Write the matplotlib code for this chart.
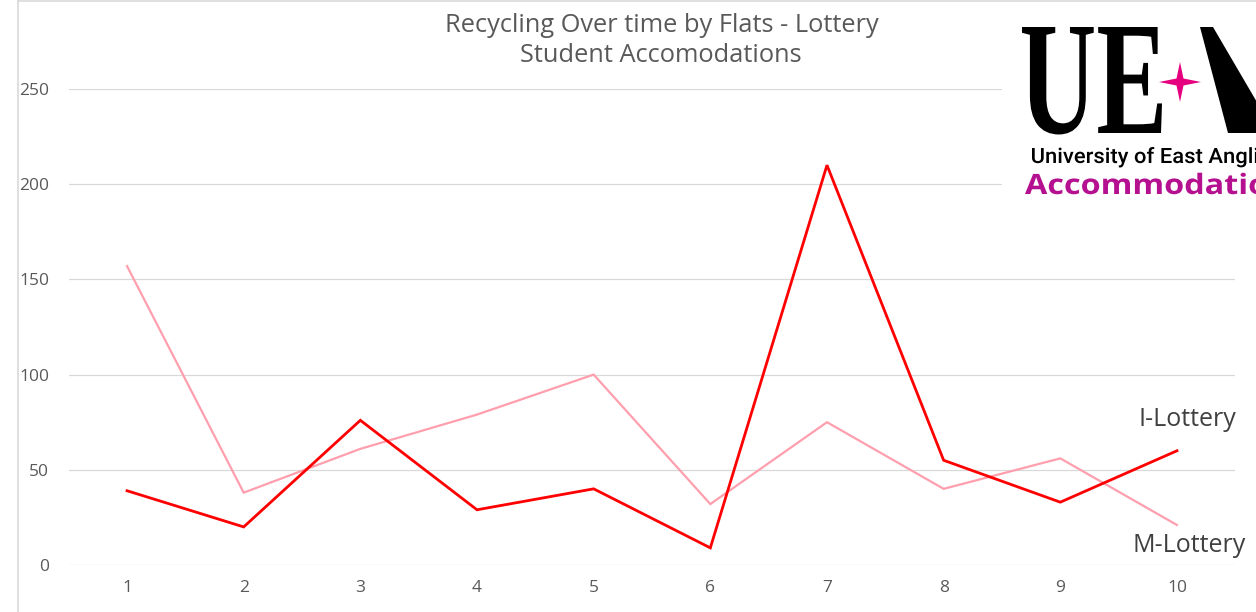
import matplotlib
matplotlib.use("Agg")
import matplotlib.pyplot as plt
from matplotlib.textpath import TextPath
from matplotlib.patches import PathPatch, Polygon, Rectangle
from matplotlib.font_manager import FontProperties
from matplotlib.transforms import Affine2D
from matplotlib.lines import Line2D

# ---- data ----
categories = [1, 2, 3, 4, 5, 6, 7, 8, 9, 10]
i_lottery = [39, 20, 76, 29, 40, 9, 210, 55, 33, 60]
m_lottery = [157, 38, 61, 79, 100, 32, 75, 40, 56, 21]
y_ticks = [0, 50, 100, 150, 200, 250]
title_lines = ["Recycling Over time by Flats - Lottery", "Student Accomodations"]
series_names = ["I-Lottery", "M-Lottery"]

W, H = 1256, 612
fig = plt.figure(figsize=(W / 100, H / 100), dpi=100)
fig.patch.set_facecolor("white")

FONT = "Open Sans"
GRID = "#d9d9d9"
TXT = "#595959"

ax = fig.add_axes([68.7 / W, (H - 565) / H, (1235.3 - 68.7) / W, (565 - 89) / H])
ax.set_xlim(0.5, 10.5)
ax.set_ylim(0, 250)
ax.set_yticks(y_ticks)
ax.set_xticks(categories)
ax.set_xticklabels([str(c) for c in categories])
for s in ax.spines.values():
    s.set_visible(False)
ax.grid(axis="y", color=GRID, linewidth=0.9)
ax.set_axisbelow(True)
ax.tick_params(axis="both", length=0, colors=TXT, labelsize=12.5)
ax.tick_params(axis="y", pad=14)
ax.tick_params(axis="x", pad=11)
for lab in ax.get_xticklabels() + ax.get_yticklabels():
    lab.set_fontfamily(FONT)

ax.plot(categories, m_lottery, color="#FF9FAE", linewidth=1.6, solid_joinstyle="miter", zorder=2)
ax.plot(categories, i_lottery, color="#FF0000", linewidth=2.0, solid_joinstyle="miter", zorder=3)

# ---- overlay in pixel coordinates ----
ov = fig.add_axes([0, 0, 1, 1], zorder=5)
ov.set_xlim(0, W)
ov.set_ylim(0, H)
ov.axis("off")
ov.patch.set_alpha(0)

# chart border (left & top)
ov.add_line(Line2D([17.5, 17.5], [0, H - 0.5], color=GRID, linewidth=1.2))
ov.add_line(Line2D([17.5, W], [H - 0.8, H - 0.8], color=GRID, linewidth=1.2))

# title
ov.text(662, H - 25, title_lines[0], ha="center", va="center", fontsize=18.3,
        color=TXT, family=FONT)
ov.text(661, H - 55, title_lines[1], ha="center", va="center", fontsize=18.3,
        color=TXT, family=FONT)

# series end labels
ov.text(1187, H - 420, series_names[0], ha="center", va="center", fontsize=18,
        color="#404040", family=FONT)
ov.text(1189, H - 545, series_names[1], ha="center", va="center", fontsize=18,
        color="#404040", family=FONT)

# ---- logo ----
ov.add_patch(Rectangle((1002, H - 205), W - 1002, 200, facecolor="white",
                       edgecolor="none", zorder=1))


def path_text(s, x0, base, cap_h, width=None, family="Open Sans", weight="normal",
              color="black"):
    fp = FontProperties(family=family, weight=weight)
    tp = TextPath((0, 0), s, size=100, prop=fp)
    ch = TextPath((0, 0), "H", size=100, prop=fp).get_extents().height
    sy = cap_h / ch
    ext = tp.get_extents()
    sx = sy if width is None else width / ext.width
    tr = Affine2D().translate(-ext.x0, 0).scale(sx, sy).translate(x0, H - base) + ov.transData
    ov.add_patch(PathPatch(tp, transform=tr, facecolor=color, edgecolor="none", zorder=2))


path_text("UE", 1022, 133, 106, width=140, family="Liberation Serif", weight="bold")
ov.add_patch(Polygon([(1200, H - 27), (1213, H - 27), (1275, H - 133), (1228, H - 133)],
                     closed=True, facecolor="black", edgecolor="none", zorder=2))
# star
cx, cy = 1180, H - 82
ro, ri = 21, 3.5
pts = [(cx + ro, cy), (cx + ri, cy + ri), (cx, cy + 20), (cx - ri, cy + ri),
       (cx - ro, cy), (cx - ri, cy - ri), (cx, cy - 20), (cx + ri, cy - ri)]
ov.add_patch(Polygon(pts, closed=True, facecolor="#E5007D", edgecolor="none", zorder=3))

path_text("University of East Anglia", 1032, 163, 15, width=238, family="Roboto",
          weight="medium", color="black")
path_text("Accommodation", 1025, 194, 20, width=262, family="Open Sans", weight="bold",
          color="#B5108F")

fig.savefig("out.png", dpi=100, facecolor="white")
